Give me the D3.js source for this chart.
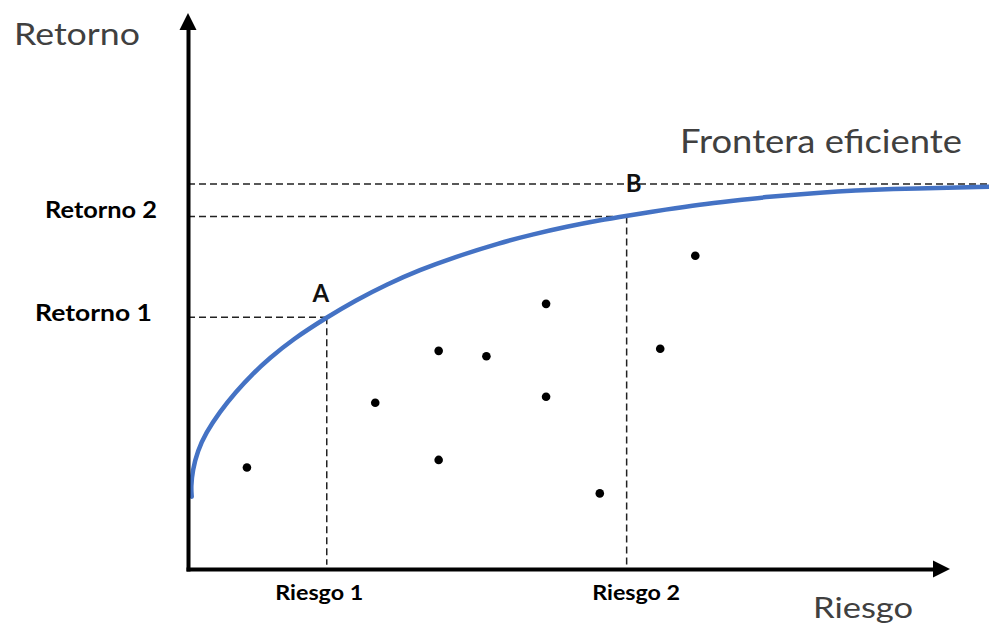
<!DOCTYPE html>
<html>
<head>
<meta charset="utf-8">
<script src="https://cdn.jsdelivr.net/npm/d3@7"></script>
<style>
body{margin:0;background:#fff;}
svg{display:block;}
</style>
</head>
<body>
<div id="chart"></div>
<script>
// portfolios (riesgo / retorno)
const puntosRiesgo  = [7.9, 25.1, 33.6, 33.6, 40.0, 48.0, 48.0, 55.2, 63.3, 68.0];
const puntosRetorno = [18.8, 30.8, 40.4, 20.2, 39.4, 49.1, 31.9, 14.0, 40.8, 58.0];

// frontera eficiente
const fronteraRiesgo  = [0.5, 0.4, 0.6, 1.3, 2.4, 4.2, 6.4, 8.7, 10.9, 14.0, 18.6, 22.4, 26.6, 31.1, 35.6, 41.8, 46.3, 50.8, 55.2, 58.8, 64.2, 68.6, 73.1, 77.6, 84.3, 93.7, 108.2];
const fronteraRetorno = [13.4, 15.2, 18.2, 21.9, 25.2, 29.0, 32.8, 36.2, 39.0, 42.5, 46.6, 49.7, 52.7, 55.4, 57.7, 60.4, 62.0, 63.4, 64.6, 65.4, 66.6, 67.5, 68.2, 68.9, 69.7, 70.4, 70.8];

// marked portfolios
const marcas        = ["A", "B"];
const marcasRiesgo  = [18.6, 58.8];
const marcasRetorno = [46.6, 65.3];

// tick labels
const etiquetasRiesgo  = ["Riesgo 1", "Riesgo 2"];
const etiquetasRetorno = ["Retorno 1", "Retorno 2"];

// upper guide line
const retornoTope = 71.3;
const riesgoTope  = 108.2;

function grafico(){

	let width = 989;
	let height = 627;

	let svg = d3.select("#chart")
		.append("svg")
		.attr("width", width)
		.attr("height", height);

	const xScale = d3.scaleLinear()
		.domain([0, 100])
		.range([188, 934]);

	const yScale = d3.scaleLinear()
		.domain([0, 100])
		.range([569, 29]);

	const guia = "#222";
	const dash = "7,4";

	//dashed guides
	svg.append("line")
		.attr("x1", xScale(0)).attr("x2", xScale(riesgoTope))
		.attr("y1", yScale(retornoTope)).attr("y2", yScale(retornoTope))
		.attr("stroke", guia).attr("stroke-width", 1.5).attr("stroke-dasharray", dash);

	marcas.forEach((m, i)=>{
		svg.append("line")
			.attr("x1", xScale(0)).attr("x2", xScale(marcasRiesgo[i]))
			.attr("y1", yScale(marcasRetorno[i])).attr("y2", yScale(marcasRetorno[i]))
			.attr("stroke", guia).attr("stroke-width", 1.5).attr("stroke-dasharray", dash);
		svg.append("line")
			.attr("x1", xScale(marcasRiesgo[i])).attr("x2", xScale(marcasRiesgo[i]))
			.attr("y1", yScale(marcasRetorno[i])).attr("y2", yScale(0.8))
			.attr("stroke", guia).attr("stroke-width", 1.5).attr("stroke-dasharray", dash);
	});

	//frontier
	const frontera = fronteraRiesgo.map((r, i)=>[r, fronteraRetorno[i]]);
	const linea = d3.line()
		.x((d)=>xScale(d[0]))
		.y((d)=>yScale(d[1]))
		.curve(d3.curveBasis);

	svg.append("path")
		.datum(frontera)
		.attr("fill", "none")
		.attr("stroke", "#4472c4")
		.attr("stroke-width", 4.5)
		.attr("stroke-linecap", "round")
		.attr("d", linea);

	//dots
	svg.selectAll(".punto")
		.data(puntosRiesgo.map((r, i)=>[r, puntosRetorno[i]]))
		.enter()
		.append("circle")
		.attr("class", "punto")
		.attr("cx", (d)=>xScale(d[0]))
		.attr("cy", (d)=>yScale(d[1]))
		.attr("r", 4.3)
		.attr("fill", "#000");

	//A / B
	const marcaDx = [-6, 7];
	const marcaDy = [-15.5, -24];
	svg.selectAll(".marca")
		.data(marcas)
		.enter()
		.append("text")
		.attr("class", "marca")
		.attr("x", (d, i)=>xScale(marcasRiesgo[i]) + marcaDx[i])
		.attr("y", (d, i)=>yScale(marcasRetorno[i]) + marcaDy[i])
		.attr("text-anchor", "middle")
		.style("font-family", "Lato, sans-serif")
		.style("font-weight", "bold")
		.style("font-size", "24px")
		.attr("fill", "#111")
		.text((d)=>d);

	//axes
	const xAxis = d3.axisBottom(xScale)
		.tickValues(marcasRiesgo)
		.tickFormat((d, i)=>etiquetasRiesgo[i])
		.tickSize(0)
		.tickSizeOuter(0)
		.tickPadding(17);

	const yAxis = d3.axisLeft(yScale)
		.tickValues(marcasRetorno)
		.tickFormat((d, i)=>etiquetasRetorno[i])
		.tickSize(0)
		.tickSizeOuter(0)
		.tickPadding(31);

	const gx = svg.append("g")
		.attr("class", "axis x_axis")
		.attr("transform", `translate(0,${yScale(0)})`)
		.call(xAxis);

	const gy = svg.append("g")
		.attr("class", "axis y_axis")
		.attr("transform", `translate(${xScale(0)},0)`)
		.call(yAxis);

	[gx, gy].forEach((g)=>{
		g.select(".domain")
			.attr("stroke", "#000")
			.attr("stroke-width", 4)
			.attr("stroke-linecap", "square");
		g.selectAll("text")
			.attr("fill", "#000")
			.style("font-family", "Lato, sans-serif")
			.style("font-weight", "bold");
	});

	const xNudge = [-8, 9];
	gx.selectAll("text")
		.attr("dx", (d, i)=>xNudge[i])
		.style("font-size", "20px")
		.attr("textLength", 88)
		.attr("lengthAdjust", "spacingAndGlyphs");

	const yNudgeX = [-5, 0];
	const yNudgeY = [-4, -6];
	const yLen = [117, 112];
	gy.selectAll("text")
		.attr("dx", (d, i)=>yNudgeX[i])
		.attr("y", (d, i)=>yNudgeY[i])
		.style("font-size", "23px")
		.attr("textLength", (d, i)=>yLen[i])
		.attr("lengthAdjust", "spacingAndGlyphs");

	//arrow heads
	const x0 = xScale(0), y0 = yScale(0);
	const xEnd = xScale.range()[1], yEnd = yScale.range()[1];
	svg.append("path")
		.attr("d", `M${x0 - 8.5},${yEnd + 1}L${x0},${yEnd - 16}L${x0 + 8.5},${yEnd + 1}Z`)
		.attr("fill", "#000");
	svg.append("path")
		.attr("d", `M${xEnd - 1},${y0 - 8.5}L${xEnd + 16},${y0}L${xEnd - 1},${y0 + 8.5}Z`)
		.attr("fill", "#000");

	//titles
	const titulo = (txt, x, y, size, len)=>{
		svg.append("text")
			.attr("x", x).attr("y", y)
			.style("font-family", "Lato, sans-serif")
			.style("font-size", size + "px")
			.attr("fill", "#404040")
			.attr("textLength", len)
			.attr("lengthAdjust", "spacingAndGlyphs")
			.text(txt);
	};
	titulo("Retorno", 14, 45, 31, 126);
	titulo("Frontera eficiente", 680, 153, 33, 282);
	titulo("Riesgo", 813, 618, 28, 100);

} //grafico

grafico();
</script>
</body>
</html>
